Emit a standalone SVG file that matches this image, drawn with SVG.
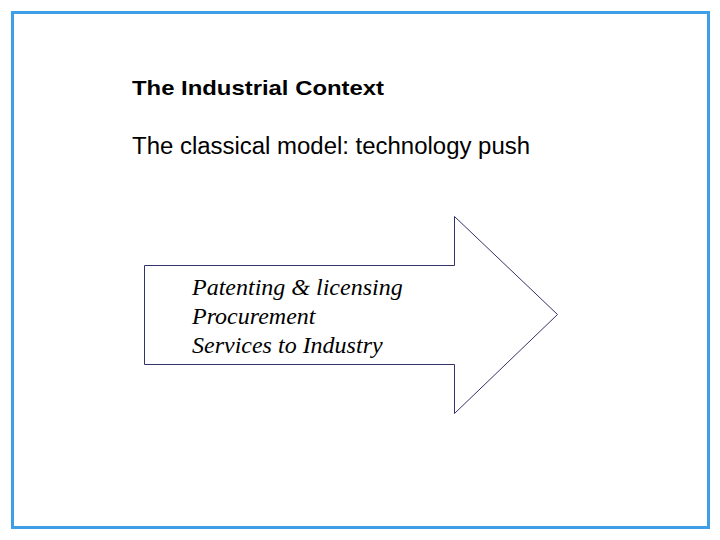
<svg xmlns="http://www.w3.org/2000/svg" width="720" height="540" viewBox="0 0 720 540">
<style>
.t{font-family:"Liberation Sans",Arial,sans-serif;fill:#000}
.i{font-family:"Liberation Serif","Times New Roman",serif;font-style:italic;font-size:24px;fill:#000}
</style>
<rect width="720" height="540" fill="#fff"/>
<rect x="12.5" y="12.5" width="696" height="515" fill="none" stroke="#3e9ee6" stroke-width="3"/>
<text class="t" x="132" y="95" font-size="21" font-weight="bold" textLength="252" lengthAdjust="spacingAndGlyphs">The Industrial Context</text>
<text class="t" x="132" y="154" font-size="23" textLength="398" lengthAdjust="spacingAndGlyphs">The classical model: technology push</text>
<g id="arrow">
<polygon points="144.5,265.5 454.5,265.5 454.5,216.5 557.5,314.5 454.5,413.5 454.5,364.5 144.5,364.5" fill="#fff" stroke="#33336b" stroke-width="1"/>
<text class="i" x="192" y="295">Patenting &amp; licensing</text>
<text class="i" x="192" y="324">Procurement</text>
<text class="i" x="192" y="353">Services to Industry</text>
</g>
</svg>
